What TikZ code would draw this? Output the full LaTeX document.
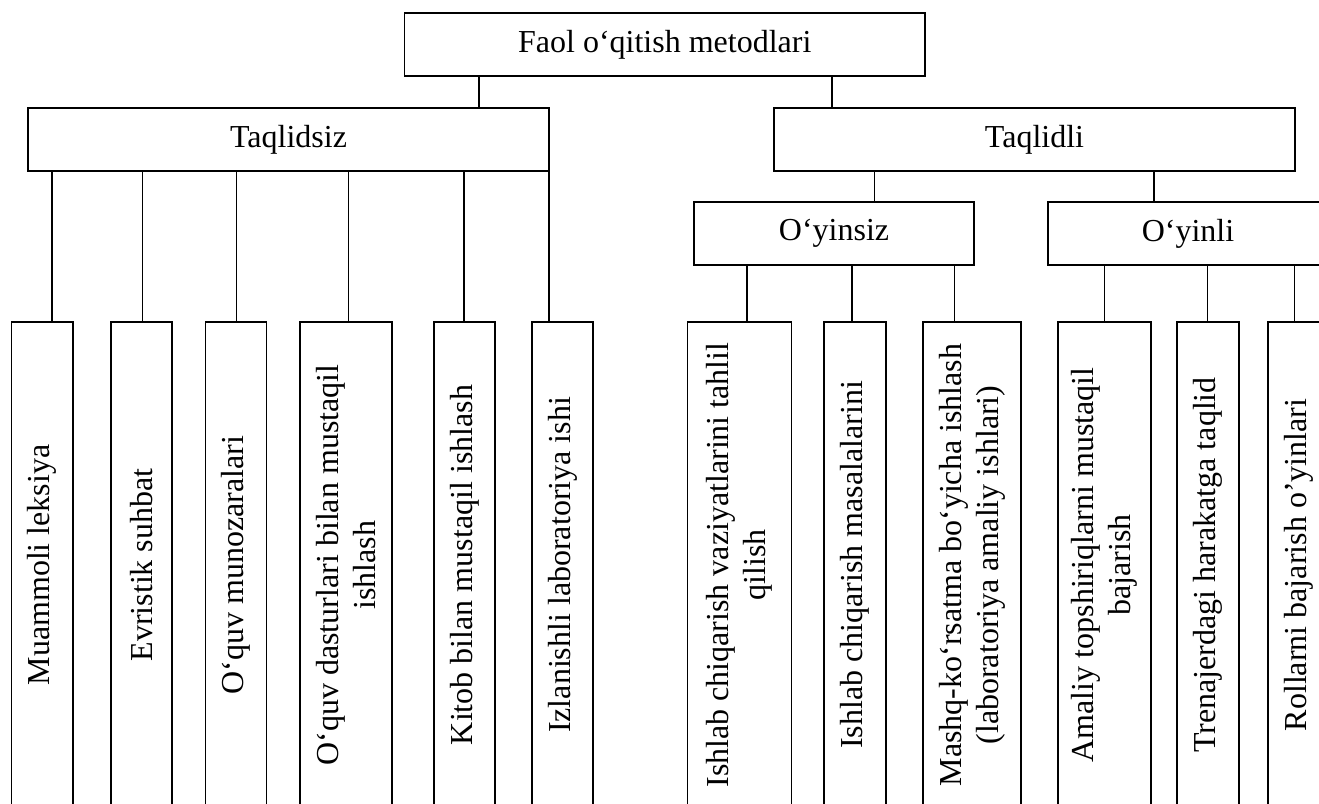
\documentclass[tikz,border=0pt]{standalone}
\usepackage{fontspec}
\setmainfont{Liberation Serif}
\begin{document}
\begin{tikzpicture}[x=1pt,y=-1pt,
  box/.style={draw, line width=1.8pt, inner sep=0pt, font=\fontsize{32}{36.8}\selectfont, align=center},
  head/.style={box, minimum height=63pt},
  leaf/.style={box, rotate=90, minimum width=486pt},
  conn/.style={line width=1.6pt}]
\useasboundingbox (0,0) rectangle (1319,803);
\clip (0,0) rectangle (1319,803);
% headers
\node[head, minimum width=520.5pt] (top) at (664.75,44.5) {Faol o‘qitish metodlari};
\node[head, minimum width=521pt] (ts) at (288.5,139.5) {Taqlidsiz};
\node[head, minimum width=521pt] (td) at (1034.5,139.5) {Taqlidli};
\node[head, minimum width=280pt] (oy) at (834,233.5) {O‘yinsiz};
\node[head, minimum width=280pt] (oi) at (1188,233.5) {O‘yinli};
% leaves
\node[leaf, minimum height=61.4pt] (l1) at (42.1,565) {Muammoli leksiya};
\node[leaf, minimum height=61.4pt] (l2) at (141.4,565) {Evristik suhbat};
\node[leaf, minimum height=61pt] (l3) at (235.9,565) {Oʻquv munozaralari};
\node[leaf, minimum height=92.6pt] (l4) at (346,565) {Oʻquv dasturlari bilan mustaqil\\ishlash};
\node[leaf, minimum height=61pt] (l5) at (464.5,565) {Kitob bilan mustaqil ishlash};
\node[leaf, minimum height=61pt] (l6) at (562.5,565) {Izlanishli laboratoriya ishi};
\node[leaf, minimum height=104pt] (l7) at (739.4,565) {Ishlab chiqarish vaziyatlarini tahlil\\qilish};
\node[leaf, minimum height=61.6pt] (l8) at (854.8,565) {Ishlab chiqarish masalalarini};
\node[leaf, minimum height=98pt] (l9) at (972,565) {Mashq-koʻrsatma boʻyicha ishlash\\(laboratoriya amaliy ishlari)};
\node[leaf, minimum height=93pt] (l10) at (1104.2,565) {Amaliy topshiriqlarni mustaqil\\bajarish};
\node[leaf, minimum height=62pt] (l11) at (1208,565) {Trenajerdagi harakatga taqlid};
\node[leaf, minimum height=62pt] (l12) at (1299,565) {Rollarni bajarish oʼyinlari};
% connector end points
\coordinate (a1) at (479,108);
\coordinate (a2) at (832,108);
\coordinate (b1) at (874.6,202);
\coordinate (b2) at (1154,202);
\coordinate (k1) at (51.8,322);
\coordinate (k2) at (142.3,322);
\coordinate (k3) at (236.5,322);
\coordinate (k4) at (348.5,322);
\coordinate (k5) at (464,322);
\coordinate (k6) at (549,322);
\coordinate (k7) at (747,322);
\coordinate (k8) at (852,322);
\coordinate (k9) at (954.6,322);
\coordinate (k10) at (1104.3,322);
\coordinate (k11) at (1207.3,322);
\coordinate (k12) at (1294.3,322);
% connectors
\draw[conn] (a1 |- top.south) -- (a1);
\draw[conn] (a2 |- top.south) -- (a2);
\draw[conn] (b1 |- td.south) -- (b1);
\draw[conn] (b2 |- td.south) -- (b2);
\foreach \k in {k1,k2,k3,k4,k5,k6}{\draw[conn] (\k |- ts.south) -- (\k);}
\foreach \k in {k7,k8,k9}{\draw[conn] (\k |- oy.south) -- (\k);}
\foreach \k in {k10,k11,k12}{\draw[conn] (\k |- oi.south) -- (\k);}
\end{tikzpicture}
\end{document}
